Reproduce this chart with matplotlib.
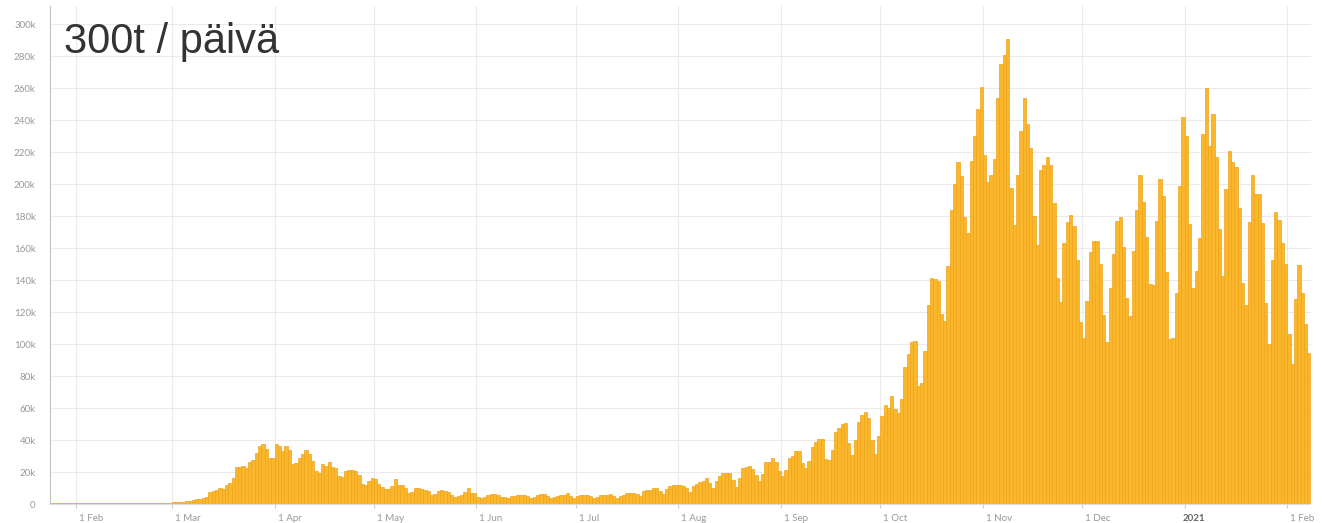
import matplotlib
matplotlib.use('Agg')
import matplotlib.pyplot as plt
import pandas as pd
from matplotlib.transforms import ScaledTranslation

# daily values in thousands, starting 24 Jan 2020
start_date = '2020-01-24'
jan_2020 = [0.5] * 8
feb_2020 = [0.5] * 26 + [0.6, 0.7, 0.8]
mar_2020 = [1.0, 1.1, 1.2, 1.4, 1.8, 2.0, 2.6, 3.0, 3.3, 3.8,
            4.5, 7.7, 8.2, 8.5, 9.8, 9.5, 11.8, 13.2, 16.5, 23.0,
            23.3, 23.6, 22.5, 26.2, 27.5, 32.0, 36.5, 37.5, 34.5, 28.5, 28.8]
apr_2020 = [37.5, 36.0, 33.0, 36.0, 33.5, 25.0, 25.5, 28.5, 31.0, 33.5,
            31.0, 27.0, 20.5, 19.5, 25.0, 23.5, 26.0, 23.0, 22.5, 17.5,
            16.8, 20.5, 21.0, 21.0, 20.5, 18.0, 12.5, 12.0, 14.5, 16.0]
may_2020 = [15.5, 12.5, 10.5, 9.3, 9.3, 11.0, 15.5, 12.0, 12.0, 10.0,
            6.8, 7.5, 10.0, 10.0, 9.2, 8.8, 8.0, 5.6, 6.0, 8.0,
            8.8, 8.2, 7.7, 5.8, 4.6, 5.2, 5.6, 7.3, 9.8, 7.0, 7.0]
jun_2020 = [4.2, 4.0, 4.3, 5.6, 6.0, 6.2, 5.9, 4.6, 4.2, 4.0,
            4.8, 5.2, 5.6, 5.8, 5.5, 4.8, 4.0, 4.2, 5.8, 6.0,
            6.2, 5.2, 4.0, 4.2, 5.0, 5.6, 5.8, 6.7, 5.2, 3.5]
jul_2020 = [5.0, 5.6, 5.6, 5.6, 5.0, 3.5, 4.6, 5.6, 5.6, 5.6,
            6.0, 5.2, 3.5, 5.2, 5.5, 7.0, 7.0, 7.0, 6.5, 5.2,
            8.0, 8.8, 9.0, 9.8, 9.8, 8.0, 6.5, 9.2, 11.0, 12.0, 12.0]
aug_2020 = [12.0, 11.5, 9.8, 7.7, 11.5, 12.5, 14.0, 14.6, 16.0, 13.0,
            9.8, 14.6, 17.5, 19.2, 19.6, 19.6, 15.0, 10.8, 16.0, 22.3,
            23.3, 24.0, 21.9, 18.0, 14.6, 18.8, 26.0, 26.0, 28.8, 26.0, 20.8]
sep_2020 = [17.5, 21.0, 29.0, 30.0, 33.0, 33.0, 25.4, 22.3, 27.0, 35.8,
            39.0, 40.8, 40.8, 28.0, 27.5, 34.0, 44.8, 47.3, 50.0, 50.4,
            38.0, 30.6, 40.0, 51.5, 55.6, 57.7, 53.5, 40.0, 31.3, 42.5]
oct_2020 = [55.0, 61.9, 59.8, 67.5, 59.2, 56.7, 65.4, 85.8, 93.8, 101.5,
            102.0, 73.8, 75.8, 95.8, 124.4, 141.0, 140.4, 139.6, 118.8, 114.4,
            148.8, 183.8, 199.8, 214.0, 205.2, 179.6, 169.2, 214.6, 230.0, 246.7, 260.4]
nov_2020 = [218.0, 201.5, 205.6, 215.4, 254.0, 275.0, 280.6, 290.4, 197.7, 174.4,
            205.6, 233.0, 254.0, 237.5, 222.7, 180.0, 161.9, 209.0, 211.9, 216.7,
            211.9, 187.9, 141.0, 126.5, 163.3, 176.5, 180.6, 173.8, 152.5, 114.0]
dec_2020 = [103.5, 127.0, 157.5, 164.5, 164.5, 150.0, 118.0, 101.5, 134.8, 156.0,
            177.0, 179.6, 160.4, 129.0, 117.5, 158.0, 184.0, 205.6, 189.0, 167.0,
            137.5, 136.9, 177.0, 203.0, 192.5, 144.8, 103.0, 104.0, 132.0, 198.7, 241.7]
jan_2021 = [230.0, 175.0, 134.8, 145.8, 166.0, 231.0, 259.8, 223.8, 243.8, 216.7,
            171.7, 142.5, 196.7, 220.8, 214.0, 210.8, 184.8, 138.3, 124.4, 176.5,
            205.6, 194.0, 193.8, 175.4, 125.8, 100.0, 152.5, 182.7, 177.5, 162.9, 150.0]
feb_2021 = [106.0, 87.5, 128.0, 149.4, 131.7, 112.5, 94.2]

month_ticks = pd.date_range('2020-02-01', '2021-02-01', freq='MS')
month_labels = ['1 Feb', '1 Mar', '1 Apr', '1 May', '1 Jun', '1 Jul', '1 Aug',
                '1 Sep', '1 Oct', '1 Nov', '1 Dec', '2021', '1 Feb']
y_ticks = list(range(0, 301, 20))
y_labels = ['0'] + [str(v) + 'k' for v in y_ticks[1:]]
title = '300t / päivä'


def main():
    values = (jan_2020 + feb_2020 + mar_2020 + apr_2020 + may_2020 + jun_2020 +
              jul_2020 + aug_2020 + sep_2020 + oct_2020 + nov_2020 + dec_2020 +
              jan_2021 + feb_2021)
    days = pd.date_range(start_date, periods=len(values), freq='D')

    fig = plt.figure(figsize=(13.22, 5.23), dpi=100)
    ax = fig.add_axes([49.5 / 1322, 19 / 523, 1261 / 1322, 498 / 523])

    ax.bar(days, values, width=1.0, align='edge', color='#fbb72c',
           edgecolor='#f0a41a', linewidth=0.5, zorder=2)

    ax.set_xlim(days[0], days[-1] + pd.Timedelta(days=1))
    ax.set_ylim(0, 498 / 1.6)

    ax.set_yticks(y_ticks)
    ax.set_yticklabels(y_labels)
    ax.set_xticks(month_ticks)
    ax.set_xticklabels(month_labels)

    ax.grid(True, color='#ebebeb', linewidth=0.8, zorder=0)
    ax.set_axisbelow(True)

    for side in ['top', 'right']:
        ax.spines[side].set_visible(False)
    ax.spines['left'].set_color('#c4c4c4')
    ax.spines['bottom'].set_color('#dddddd')

    ax.tick_params(axis='y', length=0, pad=10, labelsize=7, labelcolor='#999999')
    ax.tick_params(axis='x', length=3, color='#cccccc', pad=4, labelsize=7,
                   labelcolor='#999999')

    for lbl in ax.get_yticklabels() + ax.get_xticklabels():
        lbl.set_family('Lato')
    for lbl in ax.get_xticklabels():
        dx = 3
        if lbl.get_text() == '2021':
            dx = -2
            lbl.set_fontweight('bold')
            lbl.set_color('#666666')
        lbl.set_horizontalalignment('left')
        lbl.set_transform(lbl.get_transform() +
                          ScaledTranslation(dx / 100, 0, fig.dpi_scale_trans))

    fig.text(64.5 / 1322, 1 - 53.3 / 523, title, fontsize=30,
             family='Liberation Sans', color='#333333', ha='left', va='baseline')

    fig.savefig('out.png', dpi=100)


if __name__ == '__main__':
    main()
